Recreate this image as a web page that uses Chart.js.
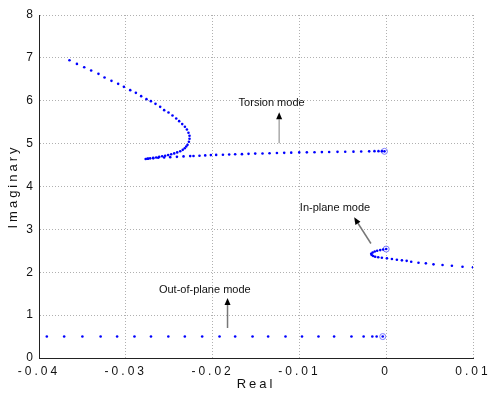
<!DOCTYPE html>
<html>
<head>
<meta charset="utf-8">
<script src="https://cdn.jsdelivr.net/npm/chart.js@4/dist/chart.umd.min.js"></script>
<style>
  html, body { margin: 0; padding: 0; background: #fff; }
  #wrap { width: 492px; height: 394px; position: relative; }
</style>
</head>
<body>
<div id="wrap"><canvas id="c"></canvas></div>
<script>
// root locus (real part, imaginary part)
const torsionRe = [-0.0002, -0.00050, -0.00089, -0.00135, -0.00196, -0.00288, -0.00377, -0.00472, -0.00561, -0.00657,
  -0.00741, -0.00826, -0.00914, -0.01002, -0.01094, -0.01175, -0.01259, -0.01344, -0.01425, -0.01509,
  -0.01586, -0.01662, -0.01740, -0.01809, -0.01881, -0.01959, -0.02020, -0.02085, -0.02151, -0.02220,
  -0.02258, -0.02335, -0.02411, -0.02488, -0.02558, -0.02627, -0.02684, -0.02742, -0.02771,
  -0.02753, -0.02719, -0.02684, -0.02650, -0.02615, -0.02581, -0.02546, -0.02512, -0.02477, -0.02442,
  -0.02408, -0.02373, -0.02344, -0.02321, -0.02304, -0.02289,
  -0.02273, -0.02266, -0.02266, -0.02278, -0.02296, -0.02319, -0.02350, -0.02385, -0.02419, -0.02462,
  -0.02508, -0.02558, -0.02604, -0.02658, -0.02711, -0.02762, -0.02823, -0.02884, -0.02949, -0.03022,
  -0.03088, -0.03165, -0.03245, -0.03315, -0.03399, -0.03479, -0.03563, -0.03649];
const torsionIm = [4.820, 4.825, 4.825, 4.825, 4.820, 4.818, 4.813, 4.811, 4.808, 4.806,
  4.802, 4.799, 4.797, 4.795, 4.790, 4.785, 4.781, 4.776, 4.771, 4.767,
  4.762, 4.755, 4.751, 4.746, 4.741, 4.737, 4.732, 4.725, 4.718, 4.711,
  4.709, 4.702, 4.692, 4.685, 4.678, 4.669, 4.660, 4.650, 4.641,
  4.648, 4.657, 4.667, 4.678, 4.690, 4.704, 4.718, 4.732, 4.751, 4.772,
  4.795, 4.823, 4.855, 4.893, 4.932, 4.972,
  5.042, 5.112, 5.182, 5.252, 5.331, 5.392, 5.455, 5.524, 5.587, 5.657,
  5.727, 5.781, 5.858, 5.928, 5.991, 6.037, 6.107, 6.184, 6.247, 6.324,
  6.394, 6.464, 6.543, 6.627, 6.706, 6.783, 6.860, 6.946];

const inPlaneRe = [0.0000, -0.00035, -0.00069, -0.00104, -0.00132, -0.00156, -0.00173, -0.00167, -0.00150, -0.00127,
  -0.00092, -0.00050, 0.00008, 0.00066, 0.00123, 0.00181, 0.00236, 0.00288, 0.00372, 0.00457,
  0.00545, 0.00649, 0.00757, 0.00879, 0.0100];
const inPlaneIm = [2.541, 2.529, 2.517, 2.501, 2.483, 2.459, 2.431, 2.401, 2.378, 2.361,
  2.350, 2.338, 2.324, 2.308, 2.291, 2.277, 2.266, 2.245, 2.222, 2.208,
  2.184, 2.168, 2.152, 2.128, 2.114];

const outPlaneRe = [-0.0004, -0.0011, -0.0016, -0.0026, -0.0040, -0.0060, -0.0078, -0.0097, -0.0116, -0.0136,
  -0.0154, -0.0174, -0.0192, -0.0212, -0.0232, -0.0251, -0.0271, -0.0290, -0.0310, -0.0329,
  -0.0350, -0.0371, -0.0391];
const outPlaneIm = outPlaneRe.map(() => 0.5);

const xTicks = [-0.04, -0.03, -0.02, -0.01, 0, 0.01];
const yTicks = [0, 1, 2, 3, 4, 5, 6, 7, 8];

// labels: text, text position, arrow tail, arrow tip (data units)
const notes = [
  { text: 'Torsion mode', at: [-0.0132, 5.95], from: [-0.01233, 5.01], to: [-0.01233, 5.73], shaft: '#aaaaaa' },
  { text: 'In-plane mode', at: [-0.0059, 3.51], from: [-0.00176, 2.67], to: [-0.00369, 3.28], shaft: '#777777' },
  { text: 'Out-of-plane mode', at: [-0.0209, 1.59], from: [-0.01828, 0.70], to: [-0.01828, 1.40], shaft: '#777777' }
];

const pts = (xs, ys) => xs.map((x, i) => ({ x: x, y: ys[i] }));
const starts = [
  { x: torsionRe[0], y: torsionIm[0] },
  { x: inPlaneRe[0], y: inPlaneIm[0] },
  { x: outPlaneRe[0], y: outPlaneIm[0] }
];

const spacing = {
  id: 'spacing',
  beforeLayout(chart) { chart.ctx.letterSpacing = '3px'; },
  beforeDraw(chart) { chart.ctx.letterSpacing = '3px'; }
};

const notesPlugin = {
  id: 'notes',
  afterDatasetsDraw(chart) {
    const { ctx, scales: { x, y } } = chart;
    ctx.save();
    ctx.letterSpacing = '0px';
    notes.forEach(n => {
      const x0 = x.getPixelForValue(n.from[0]), y0 = y.getPixelForValue(n.from[1]);
      const x1 = x.getPixelForValue(n.to[0]), y1 = y.getPixelForValue(n.to[1]);
      const a = Math.atan2(y1 - y0, x1 - x0);
      const hl = 7, hw = 3;
      ctx.strokeStyle = n.shaft;
      ctx.lineWidth = 1.5;
      ctx.beginPath();
      ctx.moveTo(x0, y0);
      ctx.lineTo(x1 - hl * Math.cos(a), y1 - hl * Math.sin(a));
      ctx.stroke();
      ctx.fillStyle = '#000';
      ctx.beginPath();
      ctx.moveTo(x1, y1);
      ctx.lineTo(x1 - hl * Math.cos(a) + hw * Math.sin(a), y1 - hl * Math.sin(a) - hw * Math.cos(a));
      ctx.lineTo(x1 - hl * Math.cos(a) - hw * Math.sin(a), y1 - hl * Math.sin(a) + hw * Math.cos(a));
      ctx.closePath();
      ctx.fill();
      ctx.font = '11px "Liberation Sans", Arial, sans-serif';
      ctx.fillStyle = '#111';
      ctx.textAlign = 'center';
      ctx.textBaseline = 'middle';
      ctx.fillText(n.text, x.getPixelForValue(n.at[0]), y.getPixelForValue(n.at[1]));
    });
    ctx.restore();
  }
};

const font = { family: '"Liberation Sans", Arial, sans-serif', size: 12 };
const grid = { color: '#b0b0b0', drawTicks: false };
const border = { display: true, color: '#222', width: 1, dash: [1, 2] };

new Chart(document.getElementById('c'), {
  type: 'scatter',
  data: {
    datasets: [
      { label: 'Torsion', data: pts(torsionRe, torsionIm), pointRadius: 1.3, pointBorderWidth: 0, pointBackgroundColor: '#0000ff' },
      { label: 'In-plane', data: pts(inPlaneRe, inPlaneIm), pointRadius: 1.3, pointBorderWidth: 0, pointBackgroundColor: '#0000ff' },
      { label: 'Out-of-plane', data: pts(outPlaneRe, outPlaneIm), pointRadius: 1.3, pointBorderWidth: 0, pointBackgroundColor: '#0000ff' },
      { label: 'Start', data: starts, pointRadius: 3, pointBorderWidth: 1, pointBorderColor: '#7a7aff', pointBackgroundColor: 'rgba(0,0,0,0)' }
    ]
  },
  options: {
    responsive: true,
    maintainAspectRatio: false,
    animation: false,
    layout: { padding: { top: 15, right: 19, left: 0, bottom: 0 } },
    plugins: { legend: { display: false }, tooltip: { enabled: false } },
    scales: {
      x: {
        type: 'linear', min: -0.04, max: 0.01,
        afterBuildTicks: s => { s.ticks = xTicks.map(v => ({ value: v })); },
        afterFit: s => { s.height = 36; s.paddingLeft = 0; s.paddingRight = 0; },
        grid: grid,
        border: border,
        ticks: { color: '#111', font: font, padding: 6, maxRotation: 0, callback: v => String(v) },
        title: { display: true, text: 'Real', color: '#111', font: { family: font.family, size: 13 }, padding: { top: 0, bottom: 2 } }
      },
      y: {
        type: 'linear', min: 0, max: 8,
        afterBuildTicks: s => { s.ticks = yTicks.map(v => ({ value: v })); },
        afterFit: s => { s.width = 39; s.paddingTop = 0; s.paddingBottom = 0; },
        grid: grid,
        border: border,
        ticks: { color: '#111', font: font, padding: 3, callback: v => String(v) },
        title: { display: true, text: 'Imaginary', color: '#111', font: { family: font.family, size: 13 }, padding: { top: 6, bottom: 0 } }
      }
    }
  },
  plugins: [spacing, notesPlugin]
});
</script>
</body>
</html>
